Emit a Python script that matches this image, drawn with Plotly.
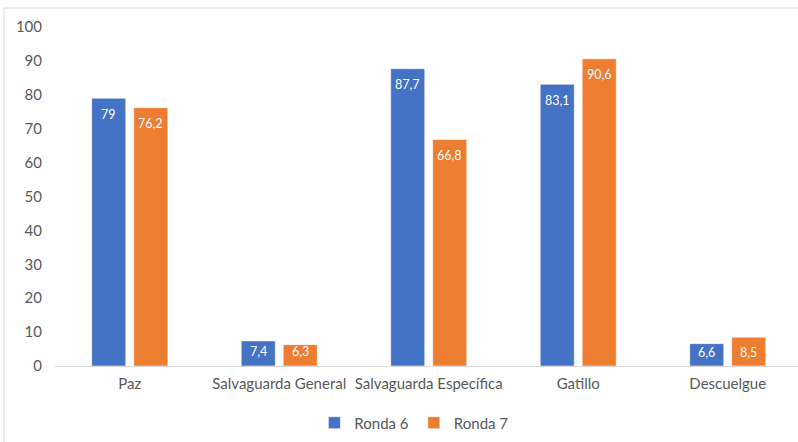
import plotly.graph_objects as go

# Survey results by category for two rounds
categorias = ["Paz", "Salvaguarda General", "Salvaguarda Específica", "Gatillo", "Descuelgue"]
ronda_6 = [79, 7.4, 87.7, 83.1, 6.6]
ronda_7 = [76.2, 6.3, 66.8, 90.6, 8.5]
y_ticks = list(range(0, 101, 10))

AZUL = "#4472C4"
NARANJA = "#ED7D31"
GRIS_TEXTO = "#595959"
FUENTE = "Lato"

PLOT_TOP, PLOT_BOTTOM = 27, 366
PX_POR_UNIDAD = (PLOT_BOTTOM - PLOT_TOP) / 100


def fmt(v):
    return f"{v:g}".replace(".", ",")


def desplazamiento(v):
    # place the label near the bar top, but keep it inside short bars
    alto = v * PX_POR_UNIDAD
    return -min(16, max(alto - 14, 6))


fig = go.Figure()
for nombre, valores, color in [("Ronda 6", ronda_6, AZUL), ("Ronda 7", ronda_7, NARANJA)]:
    fig.add_trace(go.Bar(
        name=nombre,
        x=categorias,
        y=valores,
        marker=dict(color=color, line=dict(color="rgba(255,255,255,0.55)", width=1)),
        hoverinfo="x+y",
    ))

# Value labels inside the top of each bar
for valores, shift in [(ronda_6, -21), (ronda_7, 21)]:
    for cat, v in zip(categorias, valores):
        fig.add_annotation(
            x=cat, y=v, xref="x", yref="y",
            text=fmt(v), showarrow=False,
            xshift=shift, yshift=desplazamiento(v), yanchor="middle",
            font=dict(family=FUENTE, size=12.5, color="white"),
        )

# Light frame around the chart
fig.add_shape(
    type="rect", xref="paper", yref="paper",
    x0=-0.0686, x1=1.02, y0=-0.35, y1=1.056,
    line=dict(color="#D9D9D9", width=1), fillcolor="rgba(0,0,0,0)",
    layer="below",
)

fig.update_layout(
    width=798, height=442,
    margin=dict(l=55, r=0, t=PLOT_TOP, b=442 - PLOT_BOTTOM),
    paper_bgcolor="white", plot_bgcolor="white",
    barmode="group", bargap=0.438, bargroupgap=0.19,
    font=dict(family=FUENTE, size=15, color=GRIS_TEXTO),
    showlegend=True,
    legend=dict(
        orientation="h", x=0.483, xanchor="center", y=-0.168, yanchor="middle",
        font=dict(family=FUENTE, size=15, color=GRIS_TEXTO),
        itemwidth=30, bgcolor="rgba(0,0,0,0)",
    ),
    xaxis=dict(
        type="category", range=[-0.5, 4.47],
        showgrid=False, showline=True, linecolor="#D9D9D9", linewidth=1,
        ticks="", ticklabelstandoff=4,
        tickfont=dict(family=FUENTE, size=15, color=GRIS_TEXTO),
        fixedrange=True,
    ),
    yaxis=dict(
        range=[0, 100], tickvals=y_ticks,
        showgrid=False, zeroline=False, showline=False,
        ticks="", ticklabelstandoff=12,
        tickfont=dict(family=FUENTE, size=15, color=GRIS_TEXTO),
        fixedrange=True,
    ),
)

fig.write_html("out.html")
